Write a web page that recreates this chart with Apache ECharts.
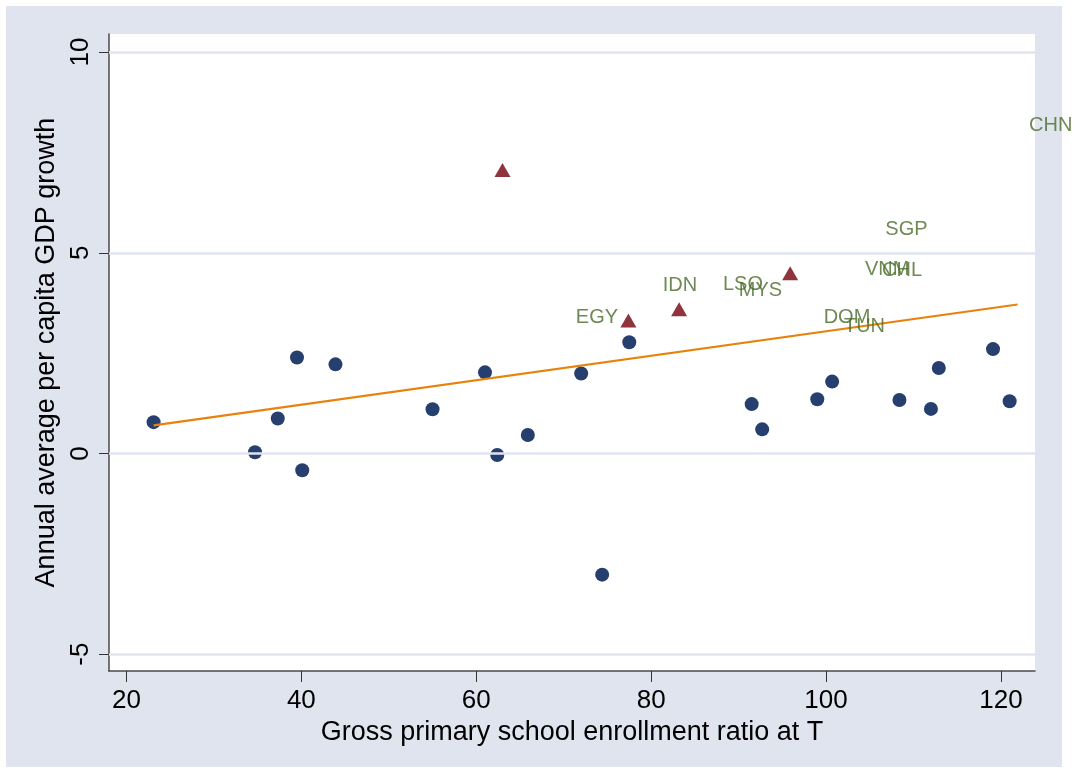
<!DOCTYPE html>
<html>
<head>
<meta charset="utf-8">
<script src="https://cdn.jsdelivr.net/npm/echarts@6/dist/echarts.min.js"></script>
<style>
html,body{margin:0;padding:0;background:#fff;}
#c{width:1076px;height:773px;}
</style>
</head>
<body>
<div id="c"></div>
<script>
// ---- data ----
var circleX = [23.1, 34.7, 37.3, 39.5, 40.1, 43.9, 55.0, 61.0, 62.4, 65.9, 72.0, 74.4, 77.5, 91.5, 92.7, 99.0, 100.7, 108.4, 112.0, 112.9, 119.1, 121.0];
var circleY = [0.78, 0.03, 0.87, 2.39, -0.42, 2.22, 1.10, 2.02, -0.04, 0.46, 1.99, -3.02, 2.77, 1.23, 0.60, 1.35, 1.79, 1.33, 1.11, 2.13, 2.60, 1.30];
var triX = [63.0, 77.4, 83.2, 95.9];
var triY = [7.06, 3.31, 3.59, 4.49];
var labelNames = ['EGY', 'IDN', 'LSO', 'MYS', 'SGP', 'VNM', 'CHL', 'DOM', 'TUN', 'CHN'];
var labelX = [73.8, 83.3, 90.5, 92.5, 109.2, 107.0, 108.7, 102.4, 104.4, 125.7];
var labelY = [3.38, 4.19, 4.20, 4.07, 5.59, 4.58, 4.56, 3.38, 3.16, 8.18];
var fitX = [23.1, 121.9];
var fitY = [0.70, 3.71];
var xTicks = [20, 40, 60, 80, 100, 120];
var yTicks = [-5, 0, 5, 10];

var FONT = 'Liberation Sans, Arial, sans-serif';
function zip(a, b) { return a.map(function (v, i) { return [v, b[i]]; }); }

var chart = echarts.init(document.getElementById('c'), null, {renderer: 'canvas'});
chart.setOption({
  backgroundColor: '#ffffff',
  animation: false,
  graphic: [{
    type: 'rect', z: -10, silent: true,
    shape: {x: 6, y: 6, width: 1056, height: 761},
    style: {fill: '#e0e4ef'}
  }],
  grid: {
    left: 109, right: 41, top: 34, bottom: 102,
    show: true, backgroundColor: '#ffffff', borderWidth: 0
  },
  xAxis: {
    type: 'value', min: 18.0, max: 123.9,
    name: 'Gross primary school enrollment ratio at T',
    nameLocation: 'middle', nameGap: 46,
    nameTextStyle: {fontFamily: FONT, fontSize: 27, color: '#000'},
    axisLine: {show: true, onZero: false, lineStyle: {color: '#4a4a4a', width: 1.5}},
    axisTick: {show: true, length: 11, customValues: xTicks, lineStyle: {color: '#333', width: 1}},
    axisLabel: {customValues: xTicks, fontFamily: FONT, fontSize: 26, color: '#000', margin: 17},
    splitLine: {show: false}
  },
  yAxis: {
    type: 'value', min: -5.42, max: 10.45,
    name: 'Annual average per capita GDP growth',
    nameLocation: 'middle', nameGap: 46, nameRotate: 90,
    nameTextStyle: {fontFamily: FONT, fontSize: 27, color: '#000'},
    axisLine: {show: true, onZero: false, lineStyle: {color: '#4a4a4a', width: 1.5}},
    axisTick: {show: true, length: 10, customValues: yTicks, lineStyle: {color: '#333', width: 1}},
    axisLabel: {customValues: yTicks, rotate: 90, fontFamily: FONT, fontSize: 26, color: '#000', margin: 15},
    splitLine: {show: false}
  },
  series: [
    {
      type: 'line', silent: true, data: [], symbol: 'none',
      markLine: {
        silent: true, symbol: 'none', label: {show: false},
        lineStyle: {color: '#e0e4ef', width: 2.5, type: 'solid'},
        data: yTicks.map(function (v) { return {yAxis: v}; })
      },
      z: 1
    },
    {
      type: 'scatter', data: zip(circleX, circleY),
      symbol: 'circle', symbolSize: 14,
      itemStyle: {color: '#263f6e', opacity: 1}, z: 3
    },
    {
      type: 'scatter', data: zip(triX, triY),
      symbol: 'triangle', symbolSize: [16, 14],
      itemStyle: {color: '#8f343d', opacity: 1}, z: 3
    },
    {
      type: 'line', data: zip(fitX, fitY), symbol: 'none',
      lineStyle: {color: '#e8820c', width: 2.2}, z: 4
    },
    {
      type: 'scatter', clip: false,
      data: labelNames.map(function (n, i) { return {name: n, value: [labelX[i], labelY[i]]}; }),
      symbol: 'circle', symbolSize: 1,
      itemStyle: {color: 'rgba(0,0,0,0)'},
      label: {show: true, position: 'inside', formatter: '{b}', fontFamily: FONT, fontSize: 20, color: '#4a6c28'},
      z: 5
    }
  ]
});
</script>
</body>
</html>
